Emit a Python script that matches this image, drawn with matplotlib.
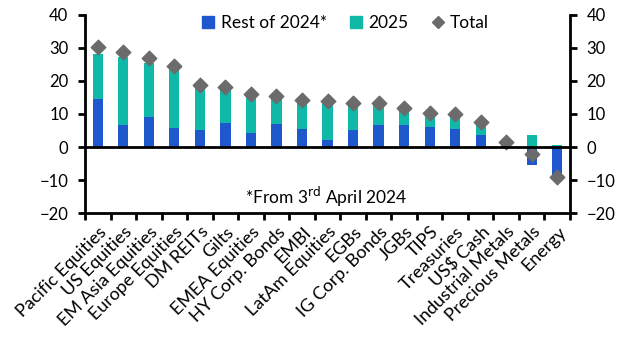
import numpy as np
import matplotlib.pyplot as plt
from matplotlib.lines import Line2D

# ---------------------------------------------------------------------
#  Dados
# ---------------------------------------------------------------------
categorias = ['Pacific Equities', 'US Equities', 'EM Asia Equities', 'Europe Equities',
              'DM REITs', 'Gilts', 'EMEA Equities', 'HY Corp. Bonds', 'EMBI',
              'LatAm Equities', 'EGBs', 'IG Corp. Bonds', 'JGBs', 'TIPS', 'Treasuries',
              'US$ Cash', 'Industrial Metals', 'Precious Metals', 'Energy']
resto_2024 = [14.4, 6.6, 9.0, 5.7, 5.1, 7.2, 4.1, 6.9, 5.4, 2.0, 5.3, 6.6, 6.6, 6.0, 5.4,
              3.5, 0.3, -5.5, -9.5]
ano_2025 = [13.7, 20.6, 16.4, 18.0, 12.9, 10.2, 11.3, 7.9, 8.3, 11.3, 7.5, 6.0, 4.8, 3.9,
            4.2, 3.3, 1.1, 3.5, 0.5]
total = [30.3, 28.8, 26.9, 24.4, 18.7, 18.2, 15.9, 15.5, 14.1, 13.8, 13.3, 13.2, 11.7,
         10.3, 9.9, 7.6, 1.6, -2.0, -9.0]

cor_azul = '#1f57cc'
cor_verde = '#10b8a8'
cor_cinza = '#6b6b6b'

plt.rcParams['font.family'] = ['Lato', 'DejaVu Sans']

fig = plt.figure(figsize=(6.27, 3.54), dpi=100)
ax = fig.add_axes([0.1356, 0.398, 0.7735, 0.56])

x = np.arange(len(categorias))
r = np.array(resto_2024)
a = np.array(ano_2025)

# Empilhamento separado para positivos e negativos
base_verde = np.where(r > 0, r, 0)

ax.bar(x, r, width=0.4, color=cor_azul, zorder=2)
ax.bar(x, a, width=0.4, bottom=base_verde, color=cor_verde, zorder=2)
ax.scatter(x, total, marker='D', s=55, color=cor_cinza, zorder=3)

ax.axhline(0, color='black', linewidth=2, zorder=4)

# Eixos
ax.set_xlim(-0.5, len(x) - 0.5)
ax.set_ylim(-20, 40)
ax.set_yticks([-20, -10, 0, 10, 20, 30, 40])
ax.set_xticks(np.arange(len(x) + 1) - 0.5)
ax.set_xticklabels([])
ax.tick_params(axis='x', length=5, width=2, direction='out')
ax.tick_params(axis='y', length=5, width=2, direction='out', labelsize=12,
               left=True, right=True, labelleft=True, labelright=True, pad=7)
for lado in ['left', 'right', 'bottom']:
    ax.spines[lado].set_linewidth(2)
ax.spines['top'].set_visible(False)

for i, nome in enumerate(categorias):
    ax.text(i + 0.02, -23.2, nome, rotation=45, ha='right', va='top',
            rotation_mode='anchor', fontsize=13)

# Nota
ax.text(8.95, -15, '*From 3$^{\\mathrm{rd}}$ April 2024',
        ha='center', va='center', fontsize=12.5)

# Legenda
handles = [
    Line2D([], [], marker='s', linestyle='', color=cor_azul, markersize=9),
    Line2D([], [], marker='s', linestyle='', color=cor_verde, markersize=9),
    Line2D([], [], marker='D', linestyle='', color=cor_cinza, markersize=6),
]
ax.legend(handles, ['Rest of 2024*', '2025', 'Total'], ncol=3, frameon=False,
          loc='upper center', bbox_to_anchor=(0.535, 1.08), fontsize=12.5,
          handletextpad=0.2, columnspacing=1.2, handlelength=1.0)

plt.savefig('out.png', dpi=100)
plt.close()
